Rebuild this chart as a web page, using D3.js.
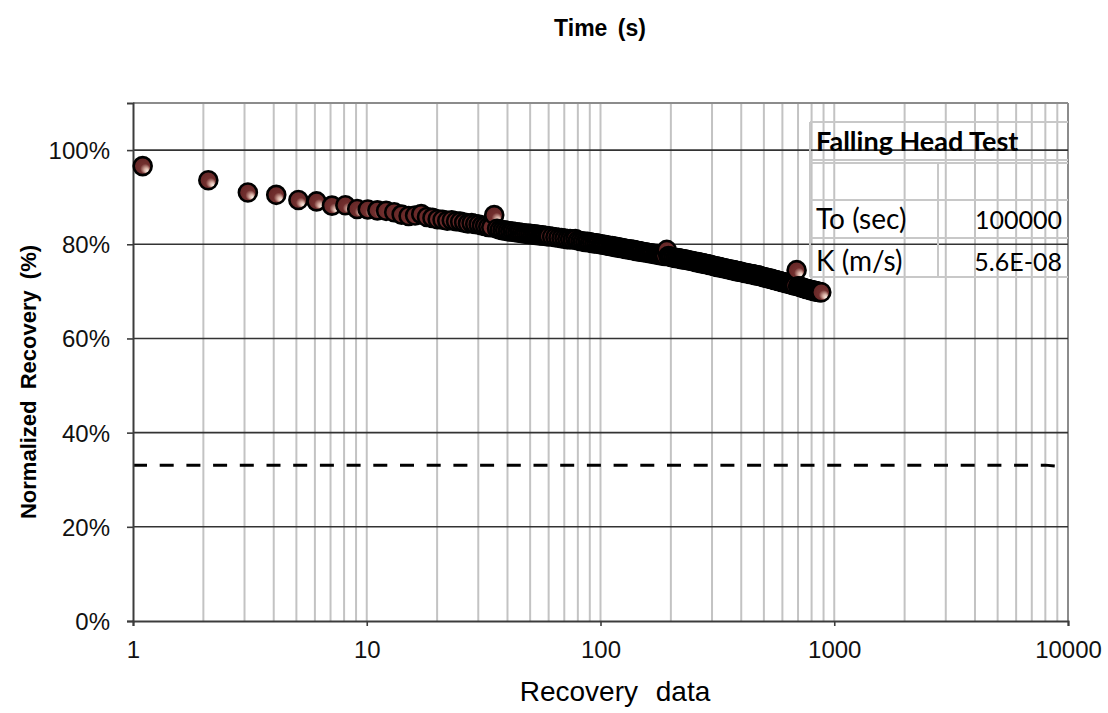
<!DOCTYPE html>
<html>
<head>
<meta charset="utf-8">
<script src="https://cdn.jsdelivr.net/npm/d3@7"></script>
<style>
  body { margin: 0; background: #ffffff; }
  svg { display: block; }
</style>
</head>
<body>
<svg id="chart" width="1108" height="713"></svg>
<script>
// ---- Recovery readings: elapsed time (s) and normalized recovery ----
const times = [
  1.1, 2.1, 3.1, 4.1, 5.1, 6.1, 7.1, 8.1, 9.1, 10.1,
  11.1, 12.1, 13.1, 14.1, 15.1, 16.1, 17.1, 18.1, 19.1, 20.1,
  21.1, 22.1, 23.1, 24.1, 25.1, 26.1, 27.1, 28.1, 29.1, 30.1,
  31.1, 32.1, 33.1, 34.1, 35.1, 36.1, 37.1, 38.1, 39.1, 40.1,
  41.1, 42.1, 43.1, 44.1, 45.1, 46.1, 47.1, 48.1, 49.1, 50.1,
  51.1, 52.1, 53.1, 54.1, 55.1, 56.1, 57.1, 58.1, 59.1, 60.1,
  62.1, 64.1, 66.1, 68.1, 70.1, 72.1, 74.1, 76.1, 78.1, 80.1,
  82.1, 84.1, 86.1, 88.1, 90.1, 92.1, 94.1, 96.1, 98.1, 100.1,
  102.1, 104.1, 106.1, 108.1, 110.1, 112.1, 114.1, 116.1, 118.1, 120.1,
  122.1, 124.1, 126.1, 128.1, 130.1, 132.1, 134.1, 136.1, 138.1, 140.1,
  142.1, 144.1, 146.1, 148.1, 150.1,
  153.1, 156.1, 159.1, 162.1, 165.1, 168.1, 171.1, 174.1, 177.1, 180.1,
  183.1, 186.1, 189.1, 192.1, 195.1, 198.1, 201.1,
  205.1, 209.1, 213.1, 217.1, 221.1, 225.1, 229.1, 233.1, 237.1, 241.1,
  245.1, 249.1, 253.1, 257.1, 261.1, 265.1, 269.1, 273.1, 277.1, 281.1,
  285.1, 289.1, 293.1, 297.1, 301.1,
  306.1, 311.1, 316.1, 321.1, 326.1, 331.1, 336.1, 341.1, 346.1, 351.1,
  356.1, 361.1, 366.1, 371.1, 376.1, 381.1, 386.1, 391.1, 396.1, 401.1,
  408.1, 415.1, 422.1, 429.1, 436.1, 443.1, 450.1, 457.1, 464.1, 471.1,
  478.1, 485.1, 492.1, 499.1, 506.1, 513.1, 520.1, 527.1, 534.1, 541.1,
  548.1, 555.1, 562.1, 569.1, 576.1, 583.1, 590.1, 597.1, 604.1,
  610.1, 620.1, 630.1, 640.1, 650.1, 660.1, 670.1, 680.1, 690.1, 700.1,
  710.1, 720.1, 730.1, 740.1, 750.1, 760.1, 770.1, 780.1, 790.1, 800.1,
  810.1, 820.1, 830.1, 840.1, 850.1, 860.1, 870.1, 880.1
];
const recovery = [
  0.966, 0.936, 0.910, 0.905, 0.894, 0.891, 0.882, 0.883, 0.875, 0.874,
  0.872, 0.871, 0.868, 0.863, 0.860, 0.861, 0.864, 0.858, 0.856, 0.853,
  0.852, 0.850, 0.851, 0.849, 0.848, 0.846, 0.844, 0.845, 0.843, 0.842,
  0.840, 0.839, 0.837, 0.836, 0.862, 0.833, 0.831, 0.830, 0.829, 0.828,
  0.827, 0.827, 0.826, 0.825, 0.825, 0.824, 0.823, 0.823, 0.822, 0.822,
  0.821, 0.821, 0.820, 0.820, 0.819, 0.819, 0.818, 0.818, 0.817, 0.817,
  0.816, 0.815, 0.814, 0.813, 0.812, 0.811, 0.811, 0.810, 0.811, 0.808,
  0.807, 0.806, 0.805, 0.805, 0.804, 0.803, 0.802, 0.802, 0.801, 0.800,
  0.799, 0.799, 0.798, 0.797, 0.796, 0.796, 0.795, 0.794, 0.794, 0.793,
  0.792, 0.792, 0.791, 0.790, 0.790, 0.789, 0.789, 0.788, 0.788, 0.787,
  0.786, 0.786, 0.785, 0.785, 0.784,
  0.783, 0.783, 0.782, 0.781, 0.781, 0.780, 0.779, 0.779, 0.778, 0.777,
  0.777, 0.776, 0.775, 0.788, 0.775, 0.774, 0.773,
  0.772, 0.771, 0.771, 0.770, 0.769, 0.768, 0.768, 0.767, 0.766, 0.765,
  0.765, 0.764, 0.763, 0.762, 0.762, 0.761, 0.760, 0.760, 0.759, 0.758,
  0.758, 0.757, 0.756, 0.756, 0.755,
  0.754, 0.753, 0.752, 0.752, 0.751, 0.750, 0.749, 0.749, 0.748, 0.747,
  0.747, 0.746, 0.745, 0.745, 0.744, 0.743, 0.743, 0.742, 0.742, 0.741,
  0.740, 0.739, 0.739, 0.738, 0.737, 0.737, 0.736, 0.735, 0.734, 0.734,
  0.733, 0.732, 0.731, 0.730, 0.730, 0.729, 0.728, 0.727, 0.727, 0.726,
  0.725, 0.724, 0.724, 0.723, 0.722, 0.722, 0.721, 0.720, 0.720,
  0.719, 0.718, 0.717, 0.716, 0.715, 0.714, 0.713, 0.712, 0.745, 0.711,
  0.710, 0.709, 0.708, 0.707, 0.706, 0.705, 0.705, 0.704, 0.703, 0.702,
  0.702, 0.701, 0.700, 0.700, 0.699, 0.699, 0.698, 0.698
];

// Dashed reference level
const refLineTimes = [1, 8000, 9300];
const refLineValues = [0.331, 0.331, 0.328];

// Axis ticks
const xTicks = [1, 10, 100, 1000, 10000];
const yTicks = [0, 0.2, 0.4, 0.6, 0.8, 1.0];

// Parameter box
const tableTitle = "Falling Head Test";
const tableLabels = ["To (sec)", "K (m/s)"];
const tableValues = ["100000", "5.6E-08"];

// ---- Layout ----
const plot = { left: 133, right: 1068, top: 103, bottom: 621 };
const svg = d3.select("#chart");

const x = d3.scaleLog().domain([1, 10000]).range([plot.left, plot.right]);
const y = d3.scaleLinear().domain([0, 1.1]).range([plot.bottom, plot.top]);

// Marker shading
const defs = svg.append("defs");
const grad = defs.append("radialGradient")
  .attr("id", "ball")
  .attr("cx", "0.5").attr("cy", "0.5").attr("r", "0.55")
  .attr("fx", "0.78").attr("fy", "0.8");
grad.append("stop").attr("offset", "0%").attr("stop-color", "#fff6ee");
grad.append("stop").attr("offset", "22%").attr("stop-color", "#d8b0a4");
grad.append("stop").attr("offset", "50%").attr("stop-color", "#72302f");
grad.append("stop").attr("offset", "100%").attr("stop-color", "#622424");

// Vertical minor grid (log decades)
const minorX = [];
for (let dec = 1; dec < 10000; dec *= 10) {
  for (let k = 2; k <= 10; k++) minorX.push(dec * k);
}
svg.append("g").selectAll("line")
  .data(minorX.filter(v => v < 10000))
  .join("line")
  .attr("x1", d => x(d)).attr("x2", d => x(d))
  .attr("y1", plot.top).attr("y2", plot.bottom)
  .attr("stroke", "#c3c3c3").attr("stroke-width", 2);

// Plot frame top/right
svg.append("line")
  .attr("x1", plot.left).attr("x2", plot.right)
  .attr("y1", plot.top).attr("y2", plot.top)
  .attr("stroke", "#8c8c8c").attr("stroke-width", 2);
svg.append("line")
  .attr("x1", plot.right).attr("x2", plot.right)
  .attr("y1", plot.top).attr("y2", plot.bottom)
  .attr("stroke", "#8c8c8c").attr("stroke-width", 2);

// Horizontal major grid
svg.append("g").selectAll("line")
  .data(yTicks.filter(d => d > 0))
  .join("line")
  .attr("x1", plot.left).attr("x2", plot.right)
  .attr("y1", d => y(d)).attr("y2", d => y(d))
  .attr("stroke", "#333333").attr("stroke-width", 1.6);

// Parameter box cell borders
const tb = { left: 810, mid: 938, right: 1068 };
const tableRowsY = [122, 160, 163, 200, 238, 277];
const tg = svg.append("g");
tg.selectAll("line.h").data(tableRowsY).join("line")
  .attr("class", "h")
  .attr("x1", tb.left).attr("x2", tb.right)
  .attr("y1", d => d).attr("y2", d => d)
  .attr("stroke", "#c8c8c8").attr("stroke-width", 2);
tg.append("line")
  .attr("x1", tb.left).attr("x2", tb.left).attr("y1", 122).attr("y2", 277)
  .attr("stroke", "#c8c8c8").attr("stroke-width", 2);
tg.append("line")
  .attr("x1", tb.mid).attr("x2", tb.mid).attr("y1", 163).attr("y2", 277)
  .attr("stroke", "#c8c8c8").attr("stroke-width", 2);

// Dashed reference line
const refData = refLineTimes.map((t, i) => [t, refLineValues[i]]);
svg.append("path")
  .datum(refData)
  .attr("d", d3.line().x(d => x(d[0])).y(d => y(d[1])))
  .attr("fill", "none")
  .attr("stroke", "#000")
  .attr("stroke-width", 3)
  .attr("stroke-dasharray", "14,12.7");

// Axes
const yAxis = svg.append("g")
  .attr("transform", `translate(${plot.left},0)`)
  .call(d3.axisLeft(y).tickValues(yTicks).tickFormat(d3.format(".0%")).tickSize(6).tickPadding(17));
const xAxis = svg.append("g")
  .attr("transform", `translate(0,${plot.bottom})`)
  .call(d3.axisBottom(x).tickValues(xTicks).tickFormat(d => String(d)).tickSize(5).tickPadding(15));

[yAxis, xAxis].forEach(g => {
  g.select(".domain").attr("stroke", "#3c3c3c").attr("stroke-width", 2);
  g.selectAll(".tick line").attr("stroke", "#3c3c3c").attr("stroke-width", 1.6);
  g.selectAll(".tick text")
    .attr("fill", "#111")
    .style("font-family", "'Liberation Sans', Arial, sans-serif")
    .style("font-size", "24px");
});
yAxis.selectAll(".tick text").attr("dy", "0.35em");

// Data markers
const pts = times.map((t, i) => ({ t, v: recovery[i] }));
svg.append("g").selectAll("circle")
  .data(pts)
  .join("circle")
  .attr("cx", d => x(d.t))
  .attr("cy", d => y(d.v))
  .attr("r", 9)
  .attr("fill", "url(#ball)")
  .attr("stroke", "#000")
  .attr("stroke-width", 2.6);

// Parameter box text
const boxFont = "Lato, 'Noto Sans', sans-serif";
svg.append("text")
  .attr("x", 816).attr("y", 151)
  .style("font-family", boxFont).style("font-weight", "bold").style("font-size", "27px")
  .attr("fill", "#000")
  .text(tableTitle);
svg.append("g").selectAll("text.lab")
  .data(tableLabels).join("text")
  .attr("class", "lab")
  .attr("x", 816).attr("y", (d, i) => [229, 271][i])
  .style("font-family", boxFont).style("font-size", "28px")
  .attr("fill", "#000")
  .text(d => d);
svg.append("g").selectAll("text.val")
  .data(tableValues).join("text")
  .attr("class", "val")
  .attr("x", 1062).attr("y", (d, i) => [229, 271][i])
  .attr("text-anchor", "end")
  .style("font-family", boxFont).style("font-size", "25px")
  .attr("fill", "#000")
  .text(d => d);

// Titles
svg.append("text")
  .attr("x", 600).attr("y", 36)
  .attr("text-anchor", "middle")
  .style("font-family", "'Liberation Sans', Arial, sans-serif")
  .style("font-weight", "bold").style("font-size", "23px")
  .style("word-spacing", "4px")
  .text("Time (s)");

svg.append("text")
  .attr("x", 615).attr("y", 701)
  .attr("text-anchor", "middle")
  .style("font-family", "'Liberation Sans', Arial, sans-serif")
  .style("font-size", "28px")
  .style("word-spacing", "10px")
  .text("Recovery data");

svg.append("text")
  .attr("transform", `translate(36,${(plot.top + plot.bottom) / 2 + 20}) rotate(-90)`)
  .attr("text-anchor", "middle")
  .style("font-family", "'Liberation Sans', Arial, sans-serif")
  .style("font-weight", "bold").style("font-size", "22px")
  .style("word-spacing", "5px")
  .text("Normalized Recovery (%)");
</script>
</body>
</html>
